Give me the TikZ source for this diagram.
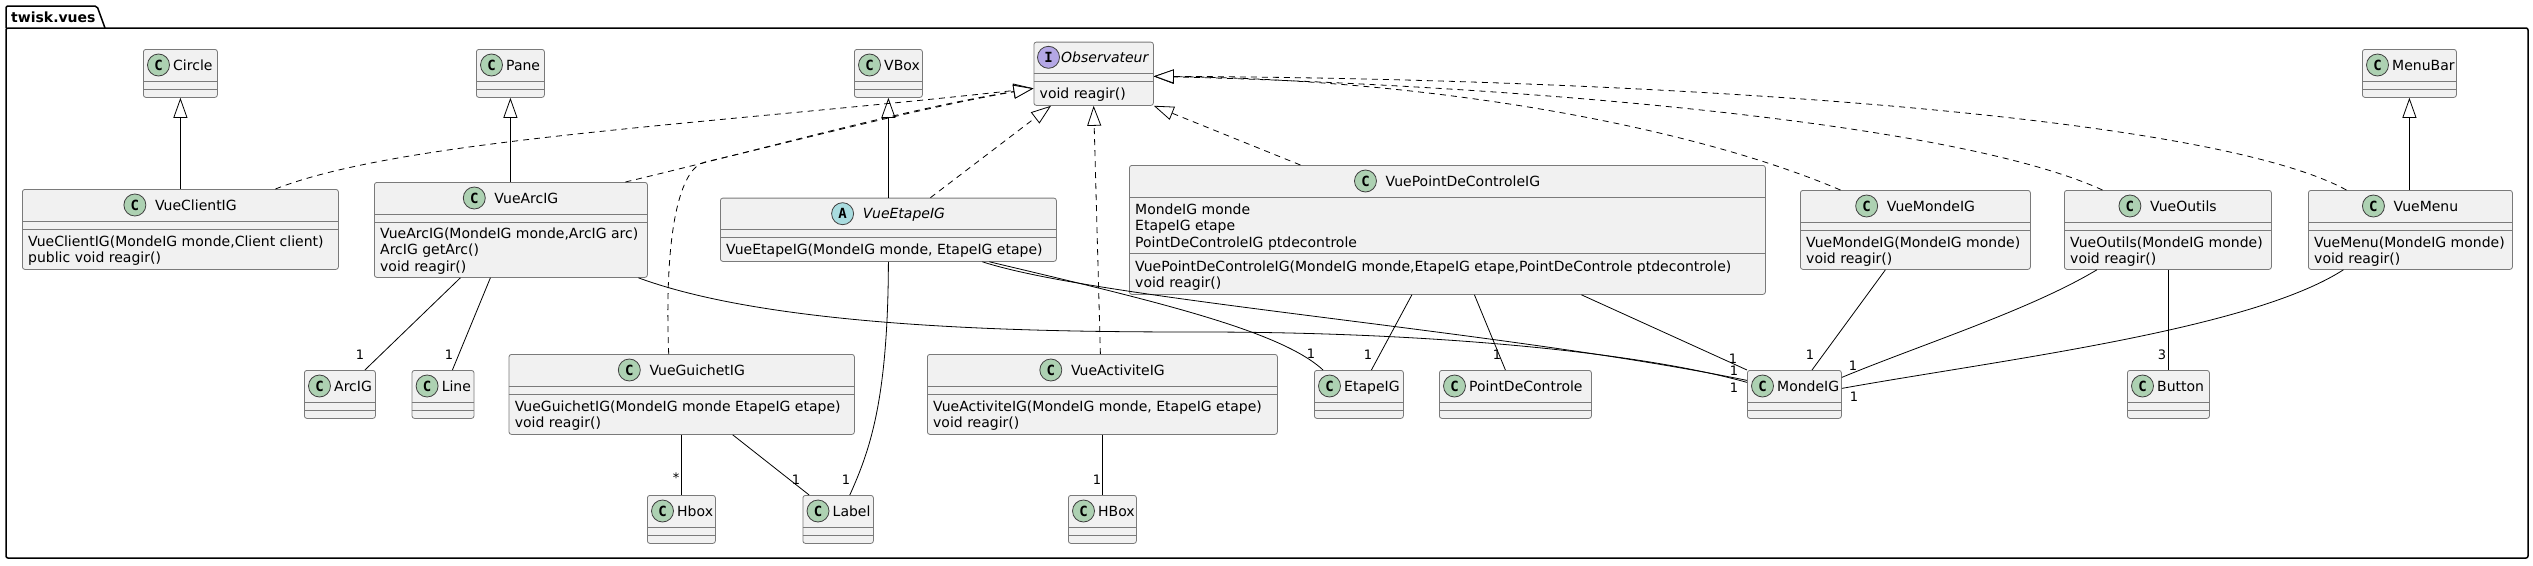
\documentclass[tikz,border=0pt]{standalone}
\usepackage{fontspec}
\setmainfont{DejaVu Sans}
\setmonofont{DejaVu Sans Mono}
\usetikzlibrary{arrows.meta}
\definecolor{boxfill}{HTML}{F1F1F1}
\definecolor{boxline}{HTML}{7A7A7A}
\definecolor{ciconfill}{HTML}{ADD1B2}
\definecolor{aiconfill}{HTML}{A9DCDF}
\definecolor{iiconfill}{HTML}{B4A7E5}
\tikzset{
  cls/.style={draw=boxline, fill=boxfill, rounded corners=2.5pt, line width=0.8pt, anchor=north west, inner sep=0pt},
  divider/.style={draw=boxline, line width=0.8pt},
  icon/.style={circle, draw=black!75, line width=0.8pt, minimum size=22pt, inner sep=0pt, font=\fontsize{14}{14}\ttfamily\bfseries},
  cname/.style={inner sep=0pt, text height=10pt, text depth=0pt, font=\fontsize{14}{16}\selectfont},
  members/.style={inner sep=0pt, anchor=north west, align=left, font=\fontsize{14}{16.5}\selectfont},
  mult/.style={inner sep=0pt, font=\fontsize{13}{13}\selectfont},
  assoc/.style={line width=0.8pt},
  extends/.style={line width=0.8pt, -{Triangle[length=20pt, width=14pt, fill=white]}},
  implements/.style={extends, dash pattern=on 6pt off 5pt},
  pkg/.style={line width=1.5pt, rounded corners=2pt},
}

\begin{document}
\begin{tikzpicture}[x=1pt, y=-1pt]
\useasboundingbox (0,0) rectangle (2533,565);
\fill[white] (0,0) rectangle (2533,565);

% package
\draw[pkg] (6,28) rectangle (2528,558);
\draw[pkg] (6,28) |- (97,6) -- (105,28);
\node[anchor=west, inner sep=0pt, font=\fontsize{14}{16}\bfseries] (pkg-t) at (11,17) {twisk.vues};

% small classes
\foreach \n/\x/\y/\w in {Circle/143/49/74, Pane/476/49/68, VBox/854/49/68, MenuBar/2362/49/94,
  ArcIG/304/370/71, Line/411.6/370/62, EtapeIG/1314/370/89, PointDeControle/1439/370/152,
  MondeIG/1747/370/94, Button/2127/370/82, Hbox/647/495/68, Label/802.5/495/70.5, HBox/1068/495/68}{
  \node[cls, minimum width=\w pt, minimum height=48pt] (\n) at (\x,\y) {};
  \draw[divider] ([yshift=-32pt]\n.north west) -- ([yshift=-32pt]\n.north east);
  \draw[divider] ([yshift=-40pt]\n.north west) -- ([yshift=-40pt]\n.north east);
  \node[icon, fill=ciconfill] (\n-i) at ([xshift=15.5pt, yshift=-16pt]\n.north west) {C};
  \node[cname, anchor=west] (\n-t) at ([xshift=30pt, yshift=-16pt]\n.north west) {\n};
}

% Observateur
\node[cls, minimum width=119.5pt, minimum height=63.3pt] (Observateur) at (1033.5,41.7) {};
\draw[divider] ([yshift=-31.3pt]Observateur.north west) -- ([yshift=-31.3pt]Observateur.north east);
\draw[divider] ([yshift=-39.3pt]Observateur.north west) -- ([yshift=-39.3pt]Observateur.north east);
\node[icon, fill=iiconfill] (Observateur-i) at ([xshift=15pt, yshift=-15.6pt]Observateur.north west) {I};
\node[cname, anchor=west] (Observateur-t) at ([xshift=27.5pt, yshift=-15.6pt]Observateur.north west) {\itshape Observateur};
\node[members] (Observateur-m) at ([xshift=6pt, yshift=-45.7pt]Observateur.north west) {void reagir()};

% VueClientIG
\node[cls, minimum width=316pt, minimum height=80pt] (VueClientIG) at (22,189) {};
\draw[divider] ([yshift=-32pt]VueClientIG.north west) -- ([yshift=-32pt]VueClientIG.north east);
\draw[divider] ([yshift=-40pt]VueClientIG.north west) -- ([yshift=-40pt]VueClientIG.north east);
\node[cname] (VueClientIG-t) at ([xshift=15.5pt, yshift=-16pt]VueClientIG.north) {VueClientIG};
\node[icon, fill=ciconfill] (VueClientIG-i) at ([xshift=-20pt]VueClientIG-t.west) {C};
\node[members] (VueClientIG-m) at ([xshift=6pt, yshift=-46.4pt]VueClientIG.north west) {VueClientIG(MondeIG monde,Client client)\\public void reagir()};

% VueArcIG
\node[cls, minimum width=273pt, minimum height=95pt] (VueArcIG) at (374,182) {};
\draw[divider] ([yshift=-32pt]VueArcIG.north west) -- ([yshift=-32pt]VueArcIG.north east);
\draw[divider] ([yshift=-40pt]VueArcIG.north west) -- ([yshift=-40pt]VueArcIG.north east);
\node[cname] (VueArcIG-t) at ([xshift=15.5pt, yshift=-16pt]VueArcIG.north) {VueArcIG};
\node[icon, fill=ciconfill] (VueArcIG-i) at ([xshift=-20pt]VueArcIG-t.west) {C};
\node[members] (VueArcIG-m) at ([xshift=6pt, yshift=-45.4pt]VueArcIG.north west) {VueArcIG(MondeIG monde,ArcIG arc)\\ArcIG getArc()\\void reagir()};

% VueEtapeIG
\node[cls, minimum width=336pt, minimum height=63.3pt] (VueEtapeIG) at (720,197.7) {};
\draw[divider] ([yshift=-32pt]VueEtapeIG.north west) -- ([yshift=-32pt]VueEtapeIG.north east);
\draw[divider] ([yshift=-40pt]VueEtapeIG.north west) -- ([yshift=-40pt]VueEtapeIG.north east);
\node[cname] (VueEtapeIG-t) at ([xshift=15.5pt, yshift=-16pt]VueEtapeIG.north) {\itshape VueEtapeIG};
\node[icon, fill=aiconfill] (VueEtapeIG-i) at ([xshift=-20pt]VueEtapeIG-t.west) {A};
\node[members] (VueEtapeIG-m) at ([xshift=6pt, yshift=-46.4pt]VueEtapeIG.north west) {VueEtapeIG(MondeIG monde, EtapeIG etape)};

% VuePointDeControleIG
\node[cls, minimum width=636pt, minimum height=129pt] (VuePointDeControleIG) at (1129,165) {};
\draw[divider] ([yshift=-32pt]VuePointDeControleIG.north west) -- ([yshift=-32pt]VuePointDeControleIG.north east);
\draw[divider] ([yshift=-88pt]VuePointDeControleIG.north west) -- ([yshift=-88pt]VuePointDeControleIG.north east);
\node[cname] (VuePointDeControleIG-t) at ([xshift=15.5pt, yshift=-16pt]VuePointDeControleIG.north) {VuePointDeControleIG};
\node[icon, fill=ciconfill] (VuePointDeControleIG-i) at ([xshift=-20pt]VuePointDeControleIG-t.west) {C};
\node[members] (VuePointDeControleIG-a) at ([xshift=6pt, yshift=-38.4pt]VuePointDeControleIG.north west) {MondeIG monde\\EtapeIG etape\\PointDeControleIG ptdecontrole};
\node[members] (VuePointDeControleIG-m) at ([xshift=6pt, yshift=-95.4pt]VuePointDeControleIG.north west) {VuePointDeControleIG(MondeIG monde,EtapeIG etape,PointDeControle ptdecontrole)\\void reagir()};

% VueMondeIG
\node[cls, minimum width=230pt, minimum height=79pt] (VueMondeIG) at (1800,190) {};
\draw[divider] ([yshift=-32pt]VueMondeIG.north west) -- ([yshift=-32pt]VueMondeIG.north east);
\draw[divider] ([yshift=-40pt]VueMondeIG.north west) -- ([yshift=-40pt]VueMondeIG.north east);
\node[cname] (VueMondeIG-t) at ([xshift=15.5pt, yshift=-16pt]VueMondeIG.north) {VueMondeIG};
\node[icon, fill=ciconfill] (VueMondeIG-i) at ([xshift=-20pt]VueMondeIG-t.west) {C};
\node[members] (VueMondeIG-m) at ([xshift=6pt, yshift=-46.4pt]VueMondeIG.north west) {VueMondeIG(MondeIG monde)\\void reagir()};

% VueOutils
\node[cls, minimum width=207pt, minimum height=79pt] (VueOutils) at (2064,190) {};
\draw[divider] ([yshift=-32pt]VueOutils.north west) -- ([yshift=-32pt]VueOutils.north east);
\draw[divider] ([yshift=-40pt]VueOutils.north west) -- ([yshift=-40pt]VueOutils.north east);
\node[cname] (VueOutils-t) at ([xshift=15.5pt, yshift=-16pt]VueOutils.north) {VueOutils};
\node[icon, fill=ciconfill] (VueOutils-i) at ([xshift=-20pt]VueOutils-t.west) {C};
\node[members] (VueOutils-m) at ([xshift=6pt, yshift=-46.4pt]VueOutils.north west) {VueOutils(MondeIG monde)\\void reagir()};

% VueMenu
\node[cls, minimum width=204pt, minimum height=79pt] (VueMenu) at (2308,190) {};
\draw[divider] ([yshift=-32pt]VueMenu.north west) -- ([yshift=-32pt]VueMenu.north east);
\draw[divider] ([yshift=-40pt]VueMenu.north west) -- ([yshift=-40pt]VueMenu.north east);
\node[cname] (VueMenu-t) at ([xshift=15.5pt, yshift=-16pt]VueMenu.north) {VueMenu};
\node[icon, fill=ciconfill] (VueMenu-i) at ([xshift=-20pt]VueMenu-t.west) {C};
\node[members] (VueMenu-m) at ([xshift=6pt, yshift=-46.4pt]VueMenu.north west) {VueMenu(MondeIG monde)\\void reagir()};

% VueGuichetIG
\node[cls, minimum width=345.4pt, minimum height=80pt] (VueGuichetIG) at (508.6,354) {};
\draw[divider] ([yshift=-32pt]VueGuichetIG.north west) -- ([yshift=-32pt]VueGuichetIG.north east);
\draw[divider] ([yshift=-40pt]VueGuichetIG.north west) -- ([yshift=-40pt]VueGuichetIG.north east);
\node[cname] (VueGuichetIG-t) at ([xshift=15.5pt, yshift=-16pt]VueGuichetIG.north) {VueGuichetIG};
\node[icon, fill=ciconfill] (VueGuichetIG-i) at ([xshift=-20pt]VueGuichetIG-t.west) {C};
\node[members] (VueGuichetIG-m) at ([xshift=6pt, yshift=-46.4pt]VueGuichetIG.north west) {VueGuichetIG(MondeIG monde EtapeIG etape)\\void reagir()};

% VueActiviteIG
\node[cls, minimum width=350pt, minimum height=80pt] (VueActiviteIG) at (927,354) {};
\draw[divider] ([yshift=-32pt]VueActiviteIG.north west) -- ([yshift=-32pt]VueActiviteIG.north east);
\draw[divider] ([yshift=-40pt]VueActiviteIG.north west) -- ([yshift=-40pt]VueActiviteIG.north east);
\node[cname] (VueActiviteIG-t) at ([xshift=15.5pt, yshift=-16pt]VueActiviteIG.north) {VueActiviteIG};
\node[icon, fill=ciconfill] (VueActiviteIG-i) at ([xshift=-20pt]VueActiviteIG-t.west) {C};
\node[members] (VueActiviteIG-m) at ([xshift=6pt, yshift=-46.4pt]VueActiviteIG.north west) {VueActiviteIG(MondeIG monde, EtapeIG etape)\\void reagir()};

% generalisations
\draw[extends] (Circle.south |- VueClientIG.north) -- (Circle.south);
\draw[extends] (Pane.south |- VueArcIG.north) -- (Pane.south);
\draw[extends] (VBox.south |- VueEtapeIG.north) -- (VBox.south);
\draw[extends] (MenuBar.south |- VueMenu.north) -- (MenuBar.south);

% realisations of Observateur
\draw[implements] ([xshift=95pt]VueClientIG.north) .. controls (400,140) and (700,125) .. ([yshift=-14.6pt]Observateur.west);
\draw[implements] ([xshift=114.5pt]VueArcIG.north) .. controls (760,150) and (900,110) .. ([yshift=-14.6pt]Observateur.west);
\draw[implements] ([xshift=-13pt]VueGuichetIG.north) .. controls (664,230) and (680,168) .. (705,162)
  .. controls (800,140) and (920,108) .. ([yshift=-14.6pt]Observateur.west);
\draw[implements] ([xshift=42pt]VueEtapeIG.north) -- ([xshift=17.5pt]Observateur.south west);
\draw[implements] ([xshift=-2pt]VueActiviteIG.north) -- (Observateur.south);
\draw[implements] ([xshift=-147pt]VuePointDeControleIG.north) -- (Observateur.south east);
\draw[implements] ([xshift=-75pt]VueMondeIG.north) .. controls (1700,130) and (1450,80) .. ([yshift=-2.6pt]Observateur.east);
\draw[implements] ([xshift=-65.5pt]VueOutils.north) .. controls (1950,120) and (1500,85) .. ([yshift=-2.6pt]Observateur.east);
\draw[implements] ([xshift=-64pt]VueMenu.north) .. controls (2200,110) and (1600,78) .. ([yshift=-2.6pt]Observateur.east);

% associations
\draw[assoc] ([xshift=-50.5pt]VueArcIG.south) -- ([xshift=25pt]ArcIG.north);
\draw[assoc] ([xshift=-20.5pt]VueArcIG.south) -- ([xshift=9.4pt]Line.north);
\draw[assoc] ([xshift=127.5pt]VueArcIG.south) .. controls (780,330) and (1050,332) .. (1200,332)
  .. controls (1450,332) and (1650,355) .. ([yshift=12pt]MondeIG.west);
\draw[assoc] ([xshift=94pt]VueEtapeIG.south) .. controls (1100,300) and (1500,330) .. ([yshift=14pt]MondeIG.west);
\draw[assoc] ([xshift=101pt]VueEtapeIG.south) .. controls (1150,300) and (1280,330) .. ([xshift=9pt]EtapeIG.north west);
\draw[assoc] (VueEtapeIG.south) .. controls (888,400) and (870,450) .. ([xshift=-24pt]Label.north east);
\draw[assoc] (Hbox.north |- VueGuichetIG.south) -- (Hbox.north);
\draw[assoc] ([xshift=51pt]VueGuichetIG.south) -- ([xshift=-29pt]Label.north);
\draw[assoc] (HBox.north |- VueActiviteIG.south) -- (HBox.north);
\draw[assoc] ([xshift=-35.5pt]VuePointDeControleIG.south) -- ([xshift=12.5pt]EtapeIG.north);
\draw[assoc] ([xshift=27pt]VuePointDeControleIG.south) -- ([xshift=-10pt]PointDeControle.north);
\draw[assoc] ([xshift=134pt]VuePointDeControleIG.south) -- (MondeIG.north west);
\draw[assoc] ([xshift=-30pt]VueMondeIG.south) -- ([xshift=17.6pt]MondeIG.north);
\draw[assoc] ([xshift=-71pt]VueOutils.south) .. controls (2030,310) and (1920,345) .. ([yshift=17pt]MondeIG.east);
\draw[assoc] (Button.north |- VueOutils.south) -- (Button.north);
\draw[assoc] ([xshift=-67pt]VueMenu.south) .. controls (2250,330) and (2000,360) .. ([yshift=6pt]MondeIG.east);

% multiplicities
\node[mult] (m-arcig) at (360,355) {1};
\node[mult] (m-line) at (449,355) {1};
\node[mult] (m-hbox) at (676,478) {*};
\node[mult] (m-label1) at (796,480) {1};
\node[mult] (m-label2) at (846,480) {1};
\node[mult] (m-hbox2) at (1097,480) {1};
\node[mult] (m-etape1) at (1311,354) {1};
\node[mult] (m-etape2) at (1368,355) {1};
\node[mult] (m-pdc) at (1497,355) {1};
\node[mult] (m-monde1) at (1733,359) {1};
\node[mult] (m-monde2) at (1734,371) {1};
\node[mult] (m-monde3) at (1734,388) {1};
\node[mult] (m-monde4) at (1810,355) {1};
\node[mult] (m-monde5) at (1853,366) {1};
\node[mult] (m-monde6) at (1854,397) {1};
\node[mult] (m-button) at (2162,355) {3};
\end{tikzpicture}
\end{document}
